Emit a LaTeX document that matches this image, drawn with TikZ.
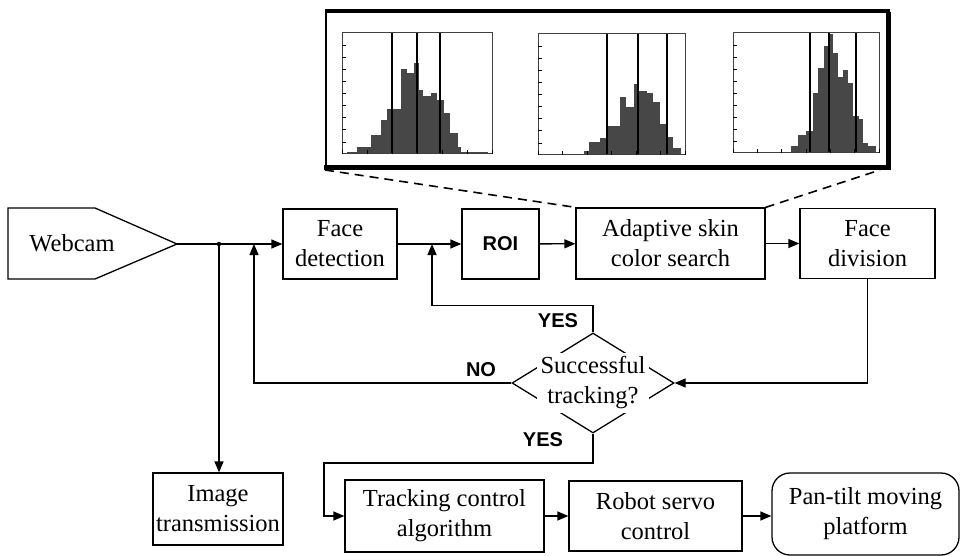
\documentclass[tikz,border=0pt]{standalone}
\usepackage{fontspec}
\setmainfont{Liberation Serif}
\newfontfamily\labsans{Liberation Sans}
\usetikzlibrary{shapes.geometric,arrows.meta}
\newcommand\drawhist[6]{%
  \begin{scope}[shift={(#1,#2)}, x=#3pt, y=#4pt]
    \foreach \a/\b/\h in {#5} \fill[black!72] (\a,0) rectangle (\b,\h);
    \foreach \v in {#6} \draw[line width=2pt] (\v,0) -- (\v,1);
    \draw[line width=1pt, black!75] (0,0) rectangle (1,1);
    \foreach \t in {0.1,0.2,...,0.95} \draw[line width=0.6pt] (0,\t) -- (0.025,\t);
    \foreach \t in {0.0,0.166,0.333,0.5,0.666,0.833,1.0} \draw[line width=0.6pt] (\t,0) -- (\t,0.03);
  \end{scope}}
\begin{document}
\begin{tikzpicture}[x=1pt,y=-1pt,
  txt/.style={font=\fontsize{24.5}{30}\selectfont, align=center},
  box/.style={txt, draw, line width=1.3pt, inner sep=0pt},
  lbl/.style={font=\labsans\bfseries\fontsize{20}{22}\selectfont, inner sep=0pt},
  conn/.style={line width=1.3pt, -{Triangle[length=11pt,width=9pt]}},
  dashconn/.style={line width=1.6pt, dash pattern=on 9pt off 6pt},
]
\useasboundingbox (0,0) rectangle (960,556);

% histogram panel
\node[draw, line width=2pt, minimum width=562pt, minimum height=159pt, inner sep=0pt] (panel) at (607,89.5) {};
\draw[line width=4pt] (326,11) -- (890,11);
\draw[line width=5pt] (324,168) -- (890,168);
\draw[line width=5pt] (888,12) -- (888,170);

\drawhist{342}{154}{150}{121}{0.03/0.10/0.02,0.10/0.19/0.06,0.19/0.26/0.16,0.26/0.30/0.28,0.30/0.39/0.37,0.39/0.43/0.70,0.43/0.48/0.67,0.48/0.51/0.75,0.51/0.54/0.53,0.54/0.59/0.48,0.59/0.63/0.50,0.63/0.68/0.45,0.68/0.72/0.34,0.72/0.77/0.17,0.77/0.79/0.06,0.79/0.97/0.02}{0.33,0.50,0.655}
\drawhist{538}{155}{147}{121}{0.31/0.35/0.03,0.35/0.42/0.11,0.42/0.47/0.14,0.47/0.56/0.24,0.56/0.60/0.48,0.60/0.65/0.40,0.65/0.69/0.59,0.69/0.74/0.53,0.74/0.78/0.51,0.78/0.83/0.44,0.83/0.875/0.26,0.875/0.92/0.15,0.92/0.97/0.06}{0.47,0.68,0.88}
\drawhist{733}{153}{146}{120}{0.40/0.445/0.06,0.445/0.50/0.15,0.50/0.55/0.18,0.55/0.58/0.5,0.58/0.62/0.71,0.62/0.65/0.89,0.65/0.685/0.99,0.685/0.72/0.83,0.72/0.75/0.63,0.75/0.79/0.69,0.79/0.82/0.58,0.82/0.86/0.31,0.86/0.89/0.28,0.89/0.925/0.08,0.925/0.98/0.06}{0.53,0.66,0.84}

% webcam
\draw[line width=1.3pt] (8,208) -- (95,208) -- (177,244) -- (95,279) -- (8,279) -- cycle;
\node[txt] (webcam) at (72,243) {Webcam};
\coordinate (camtip) at (177,244);

% boxes
\node[box, minimum width=114pt, minimum height=70pt] (fd) at (340,244) {Face\\detection};
\node[box, minimum width=77pt, minimum height=70pt, font=\labsans\bfseries\fontsize{20}{22}\selectfont] (roi) at (500.5,244) {ROI};
\node[box, minimum width=189pt, minimum height=71pt] (asc) at (670.5,243.5) {Adaptive skin\\color search};
\node[box, minimum width=135pt, minimum height=70pt] (fdiv) at (867.5,243.5) {Face\\division};
\node[box, minimum width=130pt, minimum height=72pt] (imt) at (218,509) {Image\\transmission};
\node[box, minimum width=199pt, minimum height=72pt] (tca) at (444.5,516) {Tracking control\\algorithm};
\node[box, minimum width=173pt, minimum height=70pt] (rsc) at (655.5,516) {Robot servo\\control};
\node[box, rounded corners=18pt, minimum width=187pt, minimum height=82pt] (ptm) at (865.5,514) {Pan-tilt moving\\platform};

% decision
\node[diamond, draw, line width=1.3pt, minimum width=162pt, minimum height=100pt, inner sep=0pt] (dec) at (593,383) {};
\node[txt, fill=white, inner sep=4pt] (dectext) at (dec) {Successful\\tracking?};

% dashed zoom lines
\draw[dashconn] (panel.south west) -- (asc.north west);
\draw[dashconn] (asc.north east) -- (880,170);

% connectors
\coordinate (jn) at (219,244);
\coordinate (noend) at (254,244);
\coordinate (yesend) at (432,244);
\coordinate (tb) at (324,463);
\draw[conn] (camtip) -- (fd.west);
\fill (jn) circle (2.2pt);
\draw[conn] (jn) -- (jn |- imt.north);
\draw[conn] (dec.west) -| (noend);
\draw[conn] (fd) -- (roi);
\draw[conn] (dec.north) -- ++(0,-27) -| (yesend);
\draw[conn] (roi) -- (asc);
\draw[conn] (asc) -- (fdiv);
\draw[conn] (fdiv.south) |- (dec.east);
\draw[conn] (dec.south) |- (tb) |- (tca.west);
\draw[conn] (tca) -- (rsc);
\draw[conn] (rsc.east) -- (rsc.east -| ptm.west);

% labels
\node[lbl] (yes1) at (558,321) {YES};
\node[lbl] (no) at (481,370) {NO};
\node[lbl] (yes2) at (543,440) {YES};
\end{tikzpicture}
\end{document}
